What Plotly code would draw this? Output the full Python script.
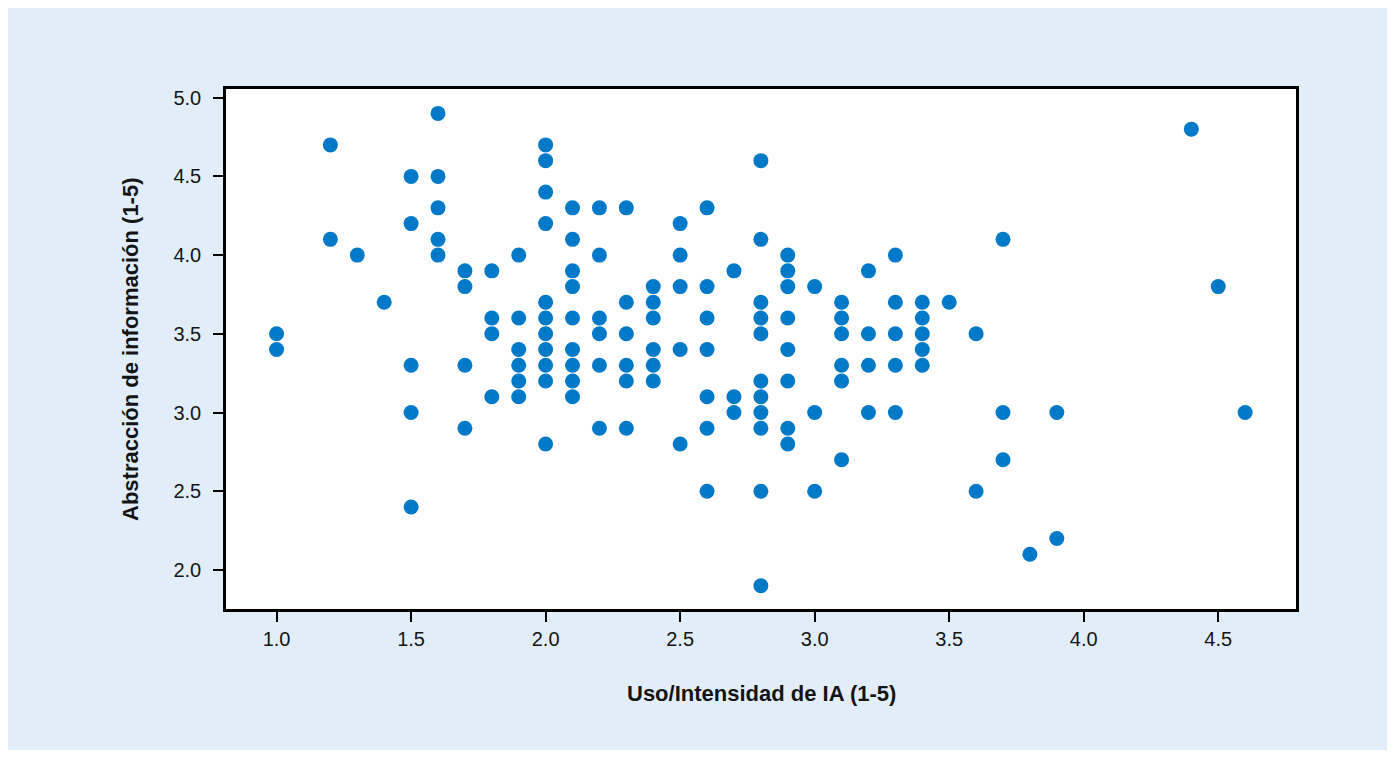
import plotly.graph_objects as go

# Uso/Intensidad de IA (1-5)
uso_ia = [
    1.0, 1.0,
    1.2, 1.2,
    1.3,
    1.4,
    1.5, 1.5, 1.5, 1.5, 1.5,
    1.6, 1.6, 1.6, 1.6, 1.6,
    1.7, 1.7, 1.7, 1.7,
    1.8, 1.8, 1.8, 1.8,
    1.9, 1.9, 1.9, 1.9, 1.9, 1.9,
    2.0, 2.0, 2.0, 2.0, 2.0, 2.0, 2.0, 2.0, 2.0, 2.0, 2.0,
    2.1, 2.1, 2.1, 2.1, 2.1, 2.1, 2.1, 2.1, 2.1,
    2.2, 2.2, 2.2, 2.2, 2.2, 2.2,
    2.3, 2.3, 2.3, 2.3, 2.3, 2.3,
    2.4, 2.4, 2.4, 2.4, 2.4, 2.4,
    2.5, 2.5, 2.5, 2.5, 2.5,
    2.6, 2.6, 2.6, 2.6, 2.6, 2.6, 2.6,
    2.7, 2.7, 2.7,
    2.8, 2.8, 2.8, 2.8, 2.8, 2.8, 2.8, 2.8, 2.8, 2.8, 2.8,
    2.9, 2.9, 2.9, 2.9, 2.9, 2.9, 2.9, 2.9,
    3.0, 3.0, 3.0,
    3.1, 3.1, 3.1, 3.1, 3.1, 3.1,
    3.2, 3.2, 3.2, 3.2,
    3.3, 3.3, 3.3, 3.3, 3.3,
    3.4, 3.4, 3.4, 3.4, 3.4,
    3.5,
    3.6, 3.6,
    3.7, 3.7, 3.7,
    3.8,
    3.9, 3.9,
    4.4,
    4.5,
    4.6,
]

# Abstracción de información (1-5)
abstraccion = [
    3.5, 3.4,
    4.7, 4.1,
    4.0,
    3.7,
    4.5, 4.2, 3.3, 3.0, 2.4,
    4.9, 4.5, 4.3, 4.1, 4.0,
    3.9, 3.8, 3.3, 2.9,
    3.9, 3.6, 3.5, 3.1,
    4.0, 3.6, 3.4, 3.3, 3.2, 3.1,
    4.7, 4.6, 4.4, 4.2, 3.7, 3.6, 3.5, 3.4, 3.3, 3.2, 2.8,
    4.3, 4.1, 3.9, 3.8, 3.6, 3.4, 3.3, 3.2, 3.1,
    4.3, 4.0, 3.6, 3.5, 3.3, 2.9,
    4.3, 3.7, 3.5, 3.3, 3.2, 2.9,
    3.8, 3.7, 3.6, 3.4, 3.3, 3.2,
    4.2, 4.0, 3.8, 3.4, 2.8,
    4.3, 3.8, 3.6, 3.4, 3.1, 2.9, 2.5,
    3.9, 3.1, 3.0,
    4.6, 4.1, 3.7, 3.6, 3.5, 3.2, 3.1, 3.0, 2.9, 2.5, 1.9,
    4.0, 3.9, 3.8, 3.6, 3.4, 3.2, 2.9, 2.8,
    3.8, 3.0, 2.5,
    3.7, 3.6, 3.5, 3.3, 3.2, 2.7,
    3.9, 3.5, 3.3, 3.0,
    4.0, 3.7, 3.5, 3.3, 3.0,
    3.7, 3.6, 3.5, 3.4, 3.3,
    3.7,
    3.5, 2.5,
    4.1, 3.0, 2.7,
    2.1,
    3.0, 2.2,
    4.8,
    3.8,
    3.0,
]

x_ticks = [1.0, 1.5, 2.0, 2.5, 3.0, 3.5, 4.0, 4.5]
y_ticks = [2.0, 2.5, 3.0, 3.5, 4.0, 4.5, 5.0]

x_title = "Uso/Intensidad de IA (1-5)"
y_title = "Abstracción de información (1-5)"

FONT = "Liberation Sans, Arial, Helvetica, sans-serif"
TXT = "#141414"

fig = go.Figure(
    go.Scatter(
        x=uso_ia,
        y=abstraccion,
        mode="markers",
        marker=dict(size=15, color="#0079C8", line=dict(width=0)),
        hoverinfo="x+y",
    )
)

axis_common = dict(
    showgrid=False,
    zeroline=False,
    showline=True,
    linecolor="black",
    linewidth=2.5,
    mirror=True,
    ticks="outside",
    ticklen=10,
    tickwidth=2,
    tickcolor="black",
    tickfont=dict(family=FONT, size=20, color=TXT),
    tickformat=".1f",
)

fig.update_xaxes(range=[0.812, 4.789], tickvals=x_ticks, **axis_common)
fig.update_yaxes(range=[1.752, 5.055], tickvals=y_ticks,
                 ticklabelstandoff=8, **axis_common)

fig.add_annotation(
    text="<b>" + x_title + "</b>",
    xref="paper", yref="paper", x=0.5, y=0,
    xanchor="center", yanchor="middle", yshift=-84,
    showarrow=False, font=dict(family=FONT, size=22, color=TXT),
)
fig.add_annotation(
    text="<b>" + y_title + "</b>",
    xref="paper", yref="paper", x=0, y=0.5,
    xanchor="center", yanchor="middle", xshift=-96, textangle=-90,
    showarrow=False, font=dict(family=FONT, size=22, color=TXT),
)

fig.update_layout(
    width=1379,
    height=742,
    margin=dict(l=218, r=91, t=81, b=141),
    paper_bgcolor="#E1EEF9",
    plot_bgcolor="white",
    showlegend=False,
    font=dict(family=FONT, color=TXT),
)

fig.write_html("out.html")
